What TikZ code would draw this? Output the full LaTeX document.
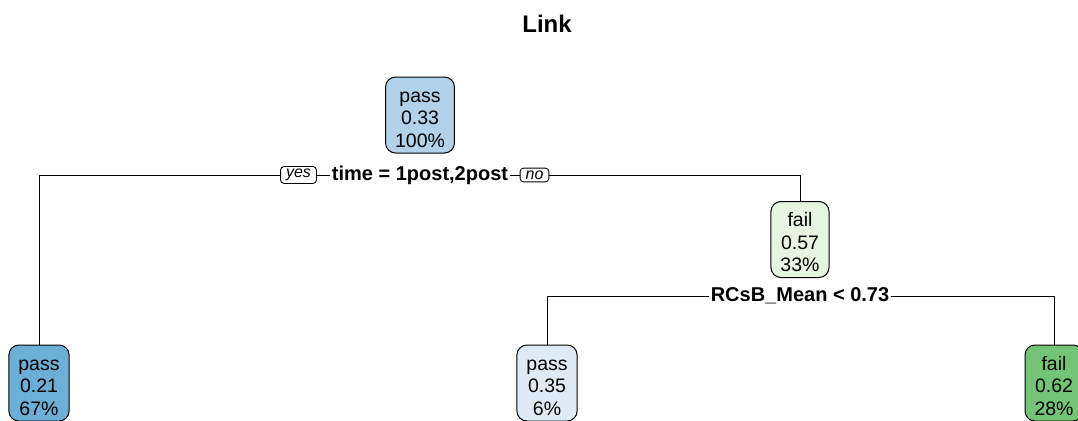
\documentclass[tikz,border=0pt]{standalone}
\usepackage{fontspec}
\setmainfont{Liberation Sans}
\definecolor{rootBlue}{RGB}{178,210,233}
\definecolor{darkBlue}{RGB}{107,174,214}
\definecolor{paleBlue}{RGB}{222,235,247}
\definecolor{paleGreen}{RGB}{229,245,224}
\definecolor{midGreen}{RGB}{116,196,118}
\newcommand{\toprule}{\rule{0pt}{22pt}}
\newcommand{\botrule}{\rule[-3pt]{0pt}{3pt}}
\begin{document}
\begin{tikzpicture}[x=1pt, y=-1pt]
\tikzstyle{leaf} = [rectangle, rounded corners=10pt, draw=black, line width=1pt, align=center, inner xsep=9.5pt, inner ysep=3pt, font=\fontsize{19.5}{22.5}\selectfont]
\tikzstyle{split} = [fill=white, inner xsep=2pt, inner ysep=1pt, font=\bfseries\fontsize{20}{22}\selectfont]
\tikzstyle{tag} = [rectangle, rounded corners=3.5pt, draw=black, line width=0.9pt, fill=white, inner xsep=5.5pt, inner ysep=2.5pt, font=\itshape\fontsize{16}{18}\selectfont]
\useasboundingbox (0,0) rectangle (1078,420);
\clip (0,0) rectangle (1078,420);
\node (T) at (547,24) [font=\bfseries\fontsize{24}{26}\selectfont] {Link};
% root and first split
\node[fill=rootBlue] (N1) at (420,115) [leaf] {\toprule pass\\0.33\\100\%\botrule};
\node (S1) at (420,175) [split] {time = 1post,2post};
\node[fill=darkBlue] (N2) at (39,383) [leaf] {\toprule pass\\0.21\\67\%\botrule};
\node[fill=paleGreen] (N3) at (800,239.5) [leaf] {\toprule fail\\0.57\\33\%\botrule};
\draw[line width=1pt] (N2.north) |- (S1.west);
\draw[line width=1pt] (N3.north) |- (S1.east);
\node (Y1) at (298.5,175) [tag] {yes};
\node (X1) at (534.5,175) [tag] {no};
% second split
\node (S3) at (800,296) [split] {RCsB\_Mean < 0.73};
\node[fill=paleBlue] (N6) at (547,383) [leaf] {\toprule pass\\0.35\\6\%\botrule};
\node[fill=midGreen] (N7) at (1054,383) [leaf] {\toprule fail\\0.62\\28\%\botrule};
\draw[line width=1pt] (N6.north) |- (S3.west);
\draw[line width=1pt] (N7.north) |- (S3.east);
\end{tikzpicture}
\end{document}
